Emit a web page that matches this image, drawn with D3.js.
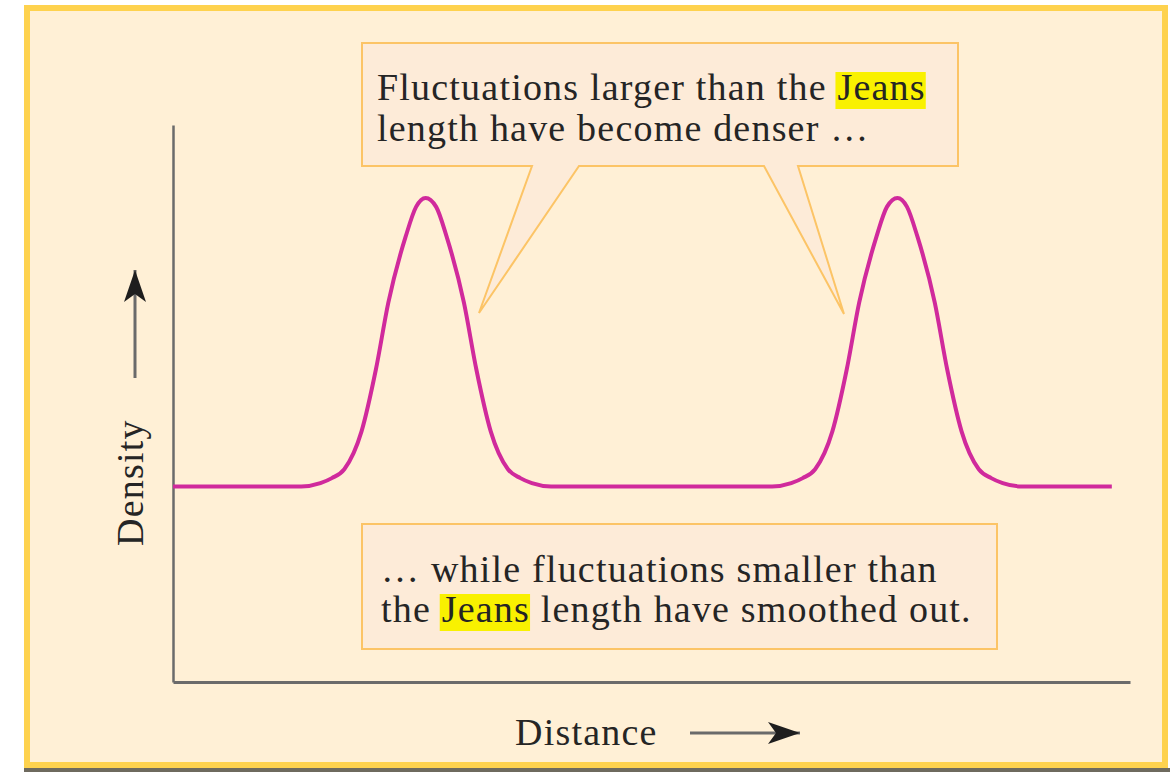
<!DOCTYPE html>
<html lang="en">
<head>
  <meta charset="utf-8">
  <title>Jeans length</title>
  <script src="https://cdn.jsdelivr.net/npm/d3@7/dist/d3.min.js"></script>
  <style>
    body { margin: 0; background: #fff; }
    text { font-family: "Liberation Serif", "DejaVu Serif", serif; fill: #252525; }
  </style>
</head>
<body>
  <script>
    // density profile (distance 0-100, density 0-100)
    var distance = [0,
                    13.4, 15.4, 16.6, 17.9, 19.7, 21.2, 22.5, 24.3, 25.4, 26.4,
                    27.5, 28.6, 30.4, 31.7, 33.2, 35.0, 36.3, 37.5, 39.5,
                    62.6, 64.6, 65.8, 67.1, 68.9, 70.4, 71.7, 73.5, 74.6, 75.7,
                    76.7, 77.8, 79.6, 80.9, 82.4, 84.2, 85.5, 86.7, 88.7,
                    98.1];
    var density = [35.1,
                   35.1, 35.7, 36.6, 38.2, 45.0, 56.1, 68.1, 79.9, 85.3, 86.9,
                   85.3, 79.9, 68.1, 56.1, 45.0, 38.2, 36.6, 35.7, 35.1,
                   35.1, 35.7, 36.6, 38.2, 45.0, 56.1, 68.1, 79.9, 85.3, 86.9,
                   85.3, 79.9, 68.1, 56.1, 45.0, 38.2, 36.6, 35.7, 35.1,
                   35.1];

    var topLines = [["Fluctuations larger than the ", "Jeans"], ["length have become denser \u2026"]];
    var bottomLines = [["\u2026 while fluctuations smaller than"], ["the ", "Jeans", " length have smoothed out."]];
    var xLabel = "Distance";
    var yLabel = "Density";

    var w = 1174;
    var h = 772;
    var margin = { top: 125, left: 173, right: 44, bottom: 90 };
    var width = w - margin.left - margin.right;
    var height = h - margin.top - margin.bottom;

    var svg = d3.select("body").append("svg")
                .attr("width", w)
                .attr("height", h);

    // frame
    svg.append("rect")
       .attr("x", 24).attr("y", 768).attr("width", 1146).attr("height", 4)
       .attr("fill", "#6e6a5e");
    svg.append("rect")
       .attr("x", 27).attr("y", 8).attr("width", 1138).attr("height", 757)
       .attr("fill", "#fff0d6")
       .attr("stroke", "#fed24e")
       .attr("stroke-width", 6);

    var x = d3.scaleLinear().domain([0, 100]).range([0, width]);
    var y = d3.scaleLinear().domain([0, 100]).range([height, 0]);

    var chart = svg.append("g")
                   .attr("transform", "translate(" + margin.left + "," + margin.top + ")");

    // axes: plain lines, no ticks
    var xAxis = d3.axisBottom(x).tickValues([]).tickSizeOuter(0);
    var yAxis = d3.axisLeft(y).tickValues([]).tickSizeOuter(0);
    chart.append("g")
         .attr("transform", "translate(0," + height + ")")
         .call(xAxis)
         .select(".domain").attr("stroke", "#6b6b6b").attr("stroke-width", 3);
    chart.append("g")
         .call(yAxis)
         .select(".domain").attr("stroke", "#6b6b6b").attr("stroke-width", 2.5);

    var points = distance.map(function(d, i) { return [d, density[i]]; });
    var line = d3.line()
                 .x(function(d) { return x(d[0]); })
                 .y(function(d) { return y(d[1]); })
                 .curve(d3.curveMonotoneX);
    chart.append("path")
         .datum(points)
         .attr("d", line)
         .attr("fill", "none")
         .attr("stroke", "#d02a9c")
         .attr("stroke-width", 4)
         .attr("stroke-linejoin", "round");

    // callouts
    var boxFill = "#fdebd8";
    var boxStroke = "#fcc466";

    svg.append("path")
       .attr("d", "M362,43 L958,43 L958,166 L798,166 L844,314 L764,166 L579,166 L479,313 L532,166 L362,166 Z")
       .attr("fill", boxFill)
       .attr("stroke", boxStroke)
       .attr("stroke-width", 2)
       .attr("stroke-linejoin", "miter");
    svg.append("rect")
       .attr("x", 362).attr("y", 524).attr("width", 635).attr("height", 125)
       .attr("fill", boxFill)
       .attr("stroke", boxStroke)
       .attr("stroke-width", 2);

    function writeLines(lines, x0, y0, dy) {
      lines.forEach(function(parts, li) {
        var hl = svg.append("g");
        var t = svg.append("text")
                   .attr("x", x0)
                   .attr("y", y0 + li * dy)
                   .attr("font-size", 38)
                   .attr("letter-spacing", 1.2);
        parts.forEach(function(p) {
          var s = t.append("tspan").text(p);
          if (p === "Jeans") s.classed("jeans", true);
        });
        t.selectAll(".jeans").each(function() {
          var b = this.getBBox();
          hl.append("rect")
            .attr("x", b.x - 2).attr("y", y0 + li * dy - 28)
            .attr("width", b.width + 2).attr("height", 37)
            .attr("fill", "#f9f100");
        });
      });
    }
    writeLines(topLines, 377, 100, 41);
    writeLines(bottomLines, 381, 582, 40);

    // axis labels with arrows
    svg.append("defs").append("marker")
       .attr("id", "head")
       .attr("viewBox", "0 0 10 10")
       .attr("preserveAspectRatio", "none")
       .attr("refX", 10).attr("refY", 5)
       .attr("markerWidth", 32).attr("markerHeight", 22)
       .attr("markerUnits", "userSpaceOnUse")
       .attr("orient", "auto")
       .append("path")
       .attr("d", "M0,0 L10,5 L0,10 L2.5,5 Z")
       .attr("fill", "#1e1e1e");

    svg.append("text")
       .attr("x", 515).attr("y", 745)
       .attr("font-size", 38)
       .attr("letter-spacing", 1.2)
       .text(xLabel);
    svg.append("line")
       .attr("x1", 690).attr("y1", 733).attr("x2", 800).attr("y2", 733)
       .attr("stroke", "#6a6a6a").attr("stroke-width", 3)
       .attr("marker-end", "url(#head)");

    svg.append("text")
       .attr("transform", "translate(143,546) rotate(-90)")
       .attr("font-size", 38)
       .attr("letter-spacing", 1.2)
       .text(yLabel);
    svg.append("line")
       .attr("x1", 135).attr("y1", 378).attr("x2", 135).attr("y2", 270)
       .attr("stroke", "#6a6a6a").attr("stroke-width", 3)
       .attr("marker-end", "url(#head)");
  </script>
</body>
</html>
